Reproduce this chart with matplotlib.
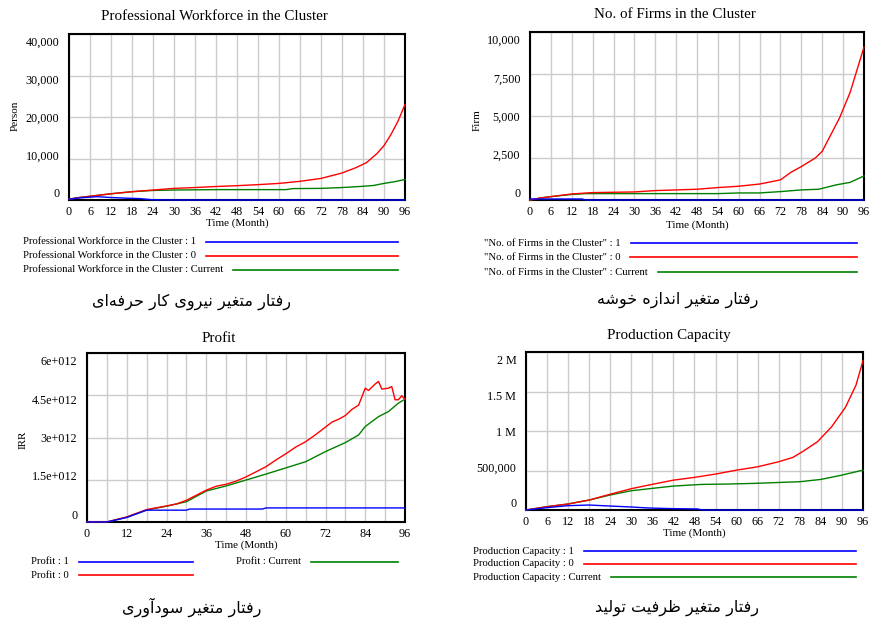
import numpy as np
import matplotlib
matplotlib.use("Agg")
import matplotlib.pyplot as plt
from matplotlib.lines import Line2D
from matplotlib.transforms import ScaledTranslation

W, H = 870, 619
SERIF = "Liberation Serif"
BLUE, RED, GREEN = "#0000ff", "#ff0000", "#008000"

# ------------------------------
# Data
# ------------------------------
# Professional workforce (Person)
wf_red_m = [0, 3, 6, 9, 12, 18, 24, 30, 36, 42, 48, 54, 60, 66, 72, 78, 82, 85, 88, 90, 92, 94, 96]
wf_red = [200, 600, 900, 1200, 1500, 2000, 2400, 2800, 3000, 3250, 3450, 3700, 4000, 4500, 5200,
          6500, 7800, 9000, 11200, 13100, 15800, 19000, 23000]
wf_green_m = [0, 3, 6, 9, 12, 18, 24, 30, 36, 42, 48, 54, 62, 64, 72, 78, 84, 87, 90, 93, 96]
wf_green = [200, 600, 900, 1200, 1500, 2000, 2300, 2400, 2450, 2500, 2500, 2500, 2500, 2750, 2800,
            3000, 3300, 3500, 4000, 4400, 4950]
wf_blue_m = [0, 3, 8, 12, 16, 20, 24, 30, 96]
wf_blue = [200, 500, 800, 600, 450, 350, 50, 0, 0]

# Number of firms (Firm)
fm_red_m = [0, 3, 6, 12, 18, 24, 30, 36, 42, 48, 54, 60, 66, 72, 75, 78, 82, 84, 86, 89, 92, 96]
fm_red = [0, 120, 200, 360, 440, 460, 480, 560, 600, 640, 740, 820, 950, 1200, 1650, 1990, 2500,
          2900, 3700, 4900, 6400, 9100]
fm_green_m = [0, 3, 6, 12, 16, 24, 30, 36, 42, 48, 54, 60, 66, 72, 78, 83, 88, 92, 96]
fm_green = [0, 120, 200, 330, 380, 380, 380, 380, 380, 380, 380, 420, 420, 500, 600, 640, 900, 1050, 1430]
fm_blue_m = [0, 15, 16, 96]
fm_blue = [60, 60, 0, 0]

# Profit (IRR, x 1e12)
pr_red_m = [0, 6, 12, 18, 24, 27, 30, 33, 36, 39, 42, 45, 48, 51, 54, 57, 60, 63, 66, 69, 72, 74,
            76, 78, 80, 82, 84, 85, 87, 88, 89, 91, 92, 93, 94, 95, 96]
pr_red = [0, 0, 0.18, 0.44, 0.57, 0.64, 0.77, 0.95, 1.13, 1.27, 1.34, 1.45, 1.6, 1.78, 1.96, 2.2,
          2.42, 2.66, 2.85, 3.1, 3.37, 3.55, 3.65, 3.78, 4.0, 4.15, 4.75, 4.67, 4.9, 4.99, 4.72,
          4.75, 4.81, 4.34, 4.34, 4.48, 4.36]
pr_green_m = [0, 6, 12, 18, 24, 30, 36, 42, 48, 54, 60, 66, 72, 78, 82, 84, 88, 91, 94, 96]
pr_green = [0, 0, 0.17, 0.43, 0.56, 0.72, 1.1, 1.28, 1.49, 1.70, 1.92, 2.14, 2.5, 2.82, 3.09, 3.39,
            3.74, 3.92, 4.22, 4.36]
pr_blue_m = [0, 6, 12, 18, 30, 31, 53, 54, 96]
pr_blue = [0, 0, 0.16, 0.42, 0.42, 0.46, 0.46, 0.5, 0.5]

# Production capacity (x 1000)
pc_red_m = [0, 6, 12, 18, 24, 30, 36, 42, 48, 54, 60, 66, 72, 76, 79, 83, 87, 91, 94, 96]
pc_red = [0, 42, 76, 126, 200, 270, 325, 378, 413, 455, 505, 547, 611, 665, 745, 863, 1050, 1300,
          1580, 1890]
pc_green_m = [0, 6, 12, 18, 24, 30, 36, 42, 50, 57, 65, 73, 78, 84, 90, 96]
pc_green = [0, 42, 76, 126, 190, 244, 274, 303, 324, 328, 337, 350, 358, 387, 442, 505]
pc_blue_m = [0, 6, 12, 18, 24, 30, 35, 42, 49, 50, 96]
pc_blue = [0, 30, 55, 63, 50, 38, 25, 17, 13, 0, 0]

wf_ticks = [0, 10000, 20000, 30000, 40000]
wf_labels = ["0", "10,000", "20,000", "30,000", "40,000"]
fm_ticks = [0, 2500, 5000, 7500, 10000]
fm_labels = ["0", "2,500", "5,000", "7,500", "10,000"]
pr_ticks = [0, 1.5e12, 3e12, 4.5e12, 6e12]
pr_labels = ["0", "1.5e+012", "3e+012", "4.5e+012", "6e+012"]
pc_ticks = [0, 500000, 1000000, 1500000, 2000000]
pc_labels = ["0", "500,000", "1 M", "1.5 M", "2 M"]

captions = ["رفتار متغیر نیروی کار حرفه‌ای", "رفتار متغیر اندازه خوشه",
            "رفتار متغیر سودآوری", "رفتار متغیر ظرفیت تولید"]

# ------------------------------
# Minimal Persian shaping (matplotlib has no RTL / joining support)
# forms: isolated, final, initial, medial
# ------------------------------
FORMS = {
    "ا": ("\uFE8D", "\uFE8E", None, None), "آ": ("\uFE81", "\uFE82", None, None),
    "د": ("\uFEA9", "\uFEAA", None, None), "ر": ("\uFEAD", "\uFEAE", None, None),
    "ز": ("\uFEAF", "\uFEB0", None, None), "و": ("\uFEED", "\uFEEE", None, None),
    "ت": ("\uFE95", "\uFE96", "\uFE97", "\uFE98"), "ح": ("\uFEA1", "\uFEA2", "\uFEA3", "\uFEA4"),
    "خ": ("\uFEA5", "\uFEA6", "\uFEA7", "\uFEA8"), "س": ("\uFEB1", "\uFEB2", "\uFEB3", "\uFEB4"),
    "ش": ("\uFEB5", "\uFEB6", "\uFEB7", "\uFEB8"), "ظ": ("\uFEC5", "\uFEC6", "\uFEC7", "\uFEC8"),
    "غ": ("\uFECD", "\uFECE", "\uFECF", "\uFED0"), "ف": ("\uFED1", "\uFED2", "\uFED3", "\uFED4"),
    "ل": ("\uFEDD", "\uFEDE", "\uFEDF", "\uFEE0"), "م": ("\uFEE1", "\uFEE2", "\uFEE3", "\uFEE4"),
    "ن": ("\uFEE5", "\uFEE6", "\uFEE7", "\uFEE8"), "ه": ("\uFEE9", "\uFEEA", "\uFEEB", "\uFEEC"),
    "ی": ("\uFBFC", "\uFBFD", "\uFBFE", "\uFBFF"), "ک": ("\uFB8E", "\uFB8F", "\uFB90", "\uFB91"),
}


def shape(text):
    out = []
    for i, ch in enumerate(text):
        if ch not in FORMS:
            if ch != "\u200c":
                out.append(ch)
            continue
        prev = text[i - 1] if i > 0 else ""
        nxt = text[i + 1] if i + 1 < len(text) else ""
        join_prev = prev in FORMS and FORMS[prev][2] is not None
        join_next = FORMS[ch][2] is not None and nxt in FORMS
        iso, fin, ini, med = FORMS[ch]
        if join_prev and join_next:
            out.append(med)
        elif join_prev:
            out.append(fin)
        elif join_next:
            out.append(ini)
        else:
            out.append(iso)
    return "".join(out)[::-1]


fig = plt.figure(figsize=(W / 100, H / 100), dpi=100)


def px(x, y):
    return x / W, 1 - y / H


def make_axes(left, right, top, bottom, yticks, ylabels, xstep):
    ax = fig.add_axes([left / W, 1 - bottom / H, (right - left) / W, (bottom - top) / H])
    ax.set_xlim(0, 96)
    ax.set_ylim(yticks[0], yticks[-1])
    ax.set_xticks(np.arange(0, 97, 6), minor=True)
    ax.set_xticks(np.arange(0, 97, xstep))
    ax.set_yticks(yticks)
    ax.set_yticklabels(ylabels)
    ax.grid(True, which="both", axis="x", color="#cccccc", lw=1.0)
    ax.grid(True, axis="y", color="#cccccc", lw=1.0)
    ax.tick_params(which="both", length=0)
    ax.tick_params(axis="y", pad=7)
    ax.tick_params(axis="x", pad=4)
    for lab in ax.get_xticklabels() + ax.get_yticklabels():
        lab.set_fontfamily(SERIF)
        lab.set_fontsize(8.7)
    # Vensim pulls the outer value labels inside the frame
    n = len(yticks)
    for i, lab in enumerate(ax.get_yticklabels()):
        dy = 7.5 * (1 - 2 * i / (n - 1)) / 100
        lab.set_transform(lab.get_transform() + ScaledTranslation(0, dy, fig.dpi_scale_trans))
    for s in ax.spines.values():
        s.set_linewidth(1.5)
        s.set_zorder(3)
    return ax


def legend(x, ys, texts, colors, line_end, gap=10):
    r = fig.canvas.get_renderer()
    for y, t, c in zip(ys, texts, colors):
        tx = fig.text(*px(x, y), t, fontfamily=SERIF, fontsize=7.7, va="center", ha="left")
        bb = tx.get_window_extent(renderer=r)
        x0 = bb.x1 + gap
        fig.add_artist(Line2D([x0 / W, line_end / W], [1 - y / H] * 2, color=c, lw=1.2))


def label(x, y, t, size=8, **kw):
    fig.text(*px(x, y), t, fontfamily=SERIF, fontsize=size, ha="center", va="center", **kw)


def caption(x, y, t):
    fig.text(*px(x, y), shape(t), fontfamily="DejaVu Sans", fontsize=11.5, ha="center", va="center")


def plot3(ax, series):
    for m, v, c in series:
        ax.plot(m, v, color=c, lw=1.0, clip_on=False, zorder=4)


# Panel 1: professional workforce
ax1 = make_axes(69, 405, 34, 200, wf_ticks, wf_labels, 6)
plot3(ax1, [(wf_green_m, wf_green, GREEN), (wf_red_m, wf_red, RED), (wf_blue_m, wf_blue, BLUE)])
label(214, 16, "Professional Workforce in the Cluster", 10.8)
label(237, 223, "Time (Month)")
label(15, 116, "Person", rotation=90)
legend(23, [242, 256, 270],
       ["Professional Workforce in the Cluster : 1", "Professional Workforce in the Cluster : 0",
        "Professional Workforce in the Cluster : Current"], [BLUE, RED, GREEN], 398)
caption(192, 302, captions[0])

# Panel 2: number of firms
ax2 = make_axes(530, 864, 32, 200, fm_ticks, fm_labels, 6)
plot3(ax2, [(fm_green_m, fm_green, GREEN), (fm_red_m, fm_red, RED), (fm_blue_m, fm_blue, BLUE)])
label(675, 15, "No. of Firms in the Cluster", 10.8)
label(697, 225, "Time (Month)")
label(477, 120, "Firm", rotation=90)
legend(484, [243, 257, 272],
       ['"No. of Firms in the Cluster" : 1', '"No. of Firms in the Cluster" : 0',
        '"No. of Firms in the Cluster" : Current'], [BLUE, RED, GREEN], 857)
caption(678, 300, captions[1])

# Panel 3: profit
ax3 = make_axes(87, 405, 353, 522, pr_ticks, pr_labels, 12)
plot3(ax3, [(pr_green_m, np.array(pr_green) * 1e12, GREEN),
            (pr_red_m, np.array(pr_red) * 1e12, RED),
            (pr_blue_m, np.array(pr_blue) * 1e12, BLUE)])
label(219, 338, "Profit", 10.8)
label(246, 545, "Time (Month)")
label(23, 440, "IRR", rotation=90)
legend(31, [562, 575], ["Profit : 1", "Profit : 0"], [BLUE, RED], 193)
legend(236, [562], ["Profit : Current"], [GREEN], 398)
caption(192, 607, captions[2])

# Panel 4: production capacity
ax4 = make_axes(526, 863, 352, 510, pc_ticks, pc_labels, 6)
plot3(ax4, [(pc_green_m, np.array(pc_green) * 1000, GREEN),
            (pc_red_m, np.array(pc_red) * 1000, RED),
            (pc_blue_m, np.array(pc_blue) * 1000, BLUE)])
label(669, 336, "Production Capacity", 10.8)
label(694, 533, "Time (Month)")
legend(473, [551, 564, 577],
       ["Production Capacity : 1", "Production Capacity : 0", "Production Capacity : Current"],
       [BLUE, RED, GREEN], 856)
caption(677, 608, captions[3])

fig.savefig("out.png", dpi=100)
